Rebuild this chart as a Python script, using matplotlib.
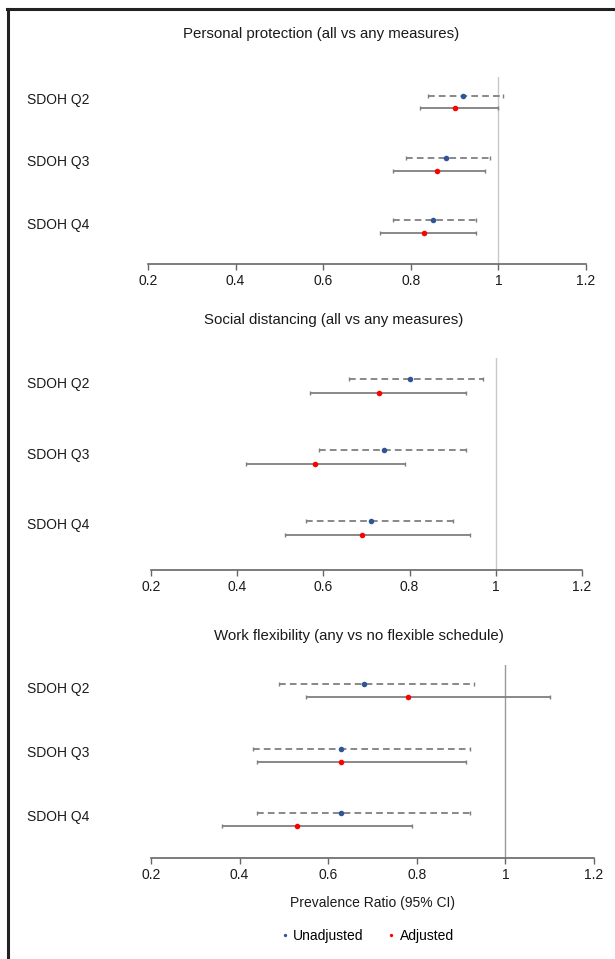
import numpy as np
import matplotlib
matplotlib.use("Agg")
import matplotlib.pyplot as plt
from matplotlib.lines import Line2D

plt.rcParams['font.family'] = ['Liberation Sans', 'DejaVu Sans']

# rows, top to bottom
groups = ['SDOH Q2', 'SDOH Q3', 'SDOH Q4']

titles = ['Personal protection (all vs any measures)',
          'Social distancing (all vs any measures)',
          'Work flexibility (any vs no flexible schedule)']

# prevalence ratios (point, lower, upper) per panel
unadj_pr = [[0.92, 0.88, 0.85], [0.80, 0.74, 0.71], [0.68, 0.63, 0.63]]
unadj_lo = [[0.84, 0.79, 0.76], [0.66, 0.59, 0.56], [0.49, 0.43, 0.44]]
unadj_hi = [[1.01, 0.98, 0.95], [0.97, 0.93, 0.90], [0.93, 0.92, 0.92]]

adj_pr = [[0.90, 0.86, 0.83], [0.73, 0.58, 0.69], [0.78, 0.63, 0.53]]
adj_lo = [[0.82, 0.76, 0.73], [0.57, 0.42, 0.51], [0.55, 0.44, 0.36]]
adj_hi = [[1.00, 0.97, 0.95], [0.93, 0.79, 0.94], [1.10, 0.91, 0.79]]

xticks = [0.2, 0.4, 0.6, 0.8, 1.0, 1.2]
xticklabels = ['0.2', '0.4', '0.6', '0.8', '1', '1.2']

W, H = 615, 959
fig = plt.figure(figsize=(W / 100, H / 100), dpi=100)

# axes boxes in pixels: left, right, top, bottom
boxes = [(148, 586, 77, 264), (151, 582, 358, 570), (151, 594, 665, 858)]
title_pos = [(321, 34), (334, 320), (359, 636)]

blue = '#2f5597'
red = '#ff0000'
gray = '#7f7f7f'

axes = []
for i in range(3):
    l, r, t, b = boxes[i]
    ax = fig.add_axes([l / W, 1 - b / H, (r - l) / W, (b - t) / H])
    axes.append(ax)
    pos = np.arange(1, 4)

    ax.axvline(1.0, color='#c8c8c8' if i < 2 else '#9a9a9a', lw=1, zorder=0)

    yu = pos - 0.1
    ya = pos + 0.1
    u = np.array(unadj_pr[i])
    a = np.array(adj_pr[i])
    eu = ax.errorbar(u, yu, xerr=[u - np.array(unadj_lo[i]), np.array(unadj_hi[i]) - u],
                     fmt='none', ecolor=gray, elinewidth=1.3, capsize=1.5, capthick=1)
    eu[2][0].set_linestyle((0, (3.7, 2.3)))
    ax.errorbar(a, ya, xerr=[a - np.array(adj_lo[i]), np.array(adj_hi[i]) - a],
                fmt='none', ecolor=gray, elinewidth=1.3, capsize=1.5, capthick=1)
    ax.plot(u, yu, 'o', color=blue, ms=4, mec='none', label='Unadjusted', zorder=3)
    ax.plot(a, ya, 'o', color=red, ms=4, mec='none', label='Adjusted', zorder=3)

    for k, g in enumerate(groups):
        fig.text(27 / W, 1 - (boxes[i][2] + (pos[k] - 0.03 - 0.6) * (b - t) / 3.0) / H,
                 g, fontsize=10, va='center', ha='left', color='#1a1a1a')

    ax.set_xlim(0.2, 1.2)
    ax.set_ylim(3.6, 0.6)
    ax.set_xticks(xticks)
    ax.set_xticklabels(xticklabels)
    ax.set_yticks([])
    for s in ['top', 'right', 'left']:
        ax.spines[s].set_visible(False)
    ax.spines['bottom'].set_color('#666666')
    ax.spines['bottom'].set_linewidth(1.2)
    ax.spines['bottom'].set_bounds(0.2, 1.2)
    ax.tick_params(axis='x', length=4, width=1, color='#666666', labelsize=10,
                   labelcolor='#1a1a1a', pad=3)
    ax.patch.set_visible(False)

    fig.text(title_pos[i][0] / W, 1 - title_pos[i][1] / H, titles[i],
             fontsize=10.8, ha='center', va='center', color='#1a1a1a')

fig.text(373 / W, 1 - 903 / H, 'Prevalence Ratio (95% CI)', fontsize=10,
         ha='center', va='center', color='#1a1a1a')

axes[2].legend(loc='center', bbox_to_anchor=(368 / W, 1 - 936 / H),
               bbox_transform=fig.transFigure, ncol=2, frameon=False, fontsize=10,
               markerscale=0.6, handlelength=0.4, handletextpad=0.4, columnspacing=1.8)

# frame lines on top and left edge
fig.add_artist(Line2D([7 / W, 1], [1 - 9 / H, 1 - 9 / H], color='#222222', lw=2.2))
fig.add_artist(Line2D([8 / W, 8 / W], [1 - 9 / H, 0], color='#222222', lw=2.2))

fig.savefig('out.png', dpi=100)
